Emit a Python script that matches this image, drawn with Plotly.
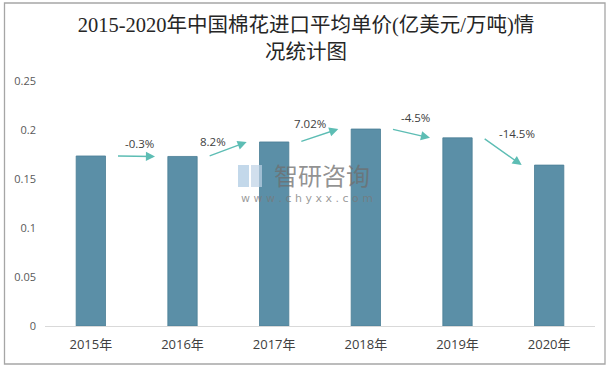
import plotly.graph_objects as go

# ---- data ----
years = ["2015年", "2016年", "2017年", "2018年", "2019年", "2020年"]
prices = [0.1735, 0.1730, 0.1878, 0.2010, 0.1920, 0.1642]
growth_labels = ["-0.3%", "8.2%", "7.02%", "-4.5%", "-14.5%"]
y_ticks = [0, 0.05, 0.1, 0.15, 0.2, 0.25]
y_tick_text = ["0", "0.05", "0.1", "0.15", "0.2", "0.25"]

# ---- styles ----
W, H = 612, 368
ML, MR, MT, MB = 45, 17, 81, 42
bar_color = "#5b8fa7"
arrow_color = "#5dbdb4"
text_color = "#404040"
label_shifts = [(4, -13), (-14, -8), (-9, -12), (5, -16), (15, -18)]
arrow_tail_off, arrow_head_off = 0.28, 0.70

x_idx = list(range(len(years)))

fig = go.Figure()
fig.add_trace(go.Bar(
    x=x_idx, y=prices,
    marker=dict(color=bar_color, line=dict(color="#4a7d95", width=0.8)),
    width=0.32,
    hoverinfo="skip",
))

annotations = []
for i, lab in enumerate(growth_labels):
    tx, ty = i + arrow_tail_off, prices[i]
    hx, hy = i + arrow_head_off, prices[i + 1]
    annotations.append(dict(
        x=hx, y=hy, ax=tx, ay=ty, xref="x", yref="y", axref="x", ayref="y",
        showarrow=True, arrowhead=2, arrowsize=1.3, arrowwidth=1.4,
        arrowcolor=arrow_color, text="",
    ))
    sx, sy = label_shifts[i]
    annotations.append(dict(
        x=(tx + hx) / 2, y=(ty + hy) / 2, xref="x", yref="y",
        text=lab, showarrow=False, xshift=sx, yshift=-sy,
        font=dict(size=11.5, color=text_color, family="Open Sans, Liberation Sans, sans-serif"),
    ))

pw, ph = W - ML - MR, H - MT - MB

# watermark
annotations.append(dict(
    xref="paper", yref="paper", x=(322 - ML) / pw, y=(H - MB - 174) / ph,
    text="智研咨询", showarrow=False,
    font=dict(size=24, color="rgba(110,110,110,0.75)", family="Noto Sans CJK SC"),
))
annotations.append(dict(
    xref="paper", yref="paper", x=(307 - ML) / pw, y=(H - MB - 198) / ph,
    text="w w w . c h y x x . c o m", showarrow=False,
    font=dict(size=11, color="rgba(120,120,120,0.75)", family="DejaVu Sans"),
))

shapes = [
    dict(type="rect", xref="paper", yref="paper",
         x0=(4.5 - ML) / pw, x1=(605 - ML) / pw,
         y0=(H - MB - 364) / ph, y1=(H - MB - 3) / ph,
         line=dict(color="#a6a6a6", width=1.3), fillcolor="rgba(0,0,0,0)", layer="below"),
    # watermark logo blocks
    dict(type="rect", xref="paper", yref="paper",
         x0=(238 - ML) / pw, x1=(249 - ML) / pw,
         y0=(H - MB - 187) / ph, y1=(H - MB - 165) / ph,
         line=dict(width=0), fillcolor="rgba(170,200,225,0.7)", layer="above"),
    dict(type="rect", xref="paper", yref="paper",
         x0=(251 - ML) / pw, x1=(262 - ML) / pw,
         y0=(H - MB - 187) / ph, y1=(H - MB - 165) / ph,
         line=dict(width=0), fillcolor="rgba(190,210,230,0.7)", layer="above"),
]

fig.update_layout(
    width=W, height=H,
    margin=dict(l=ML, r=MR, t=MT, b=MB),
    paper_bgcolor="white", plot_bgcolor="white",
    showlegend=False,
    hovermode=False,
    title=dict(
        text="2015-2020年中国棉花进口平均单价(亿美元/万吨)情<br>况统计图",
        x=0.5, xanchor="center", xref="container",
        y=1 - 32 / H, yanchor="top", yref="container",
        font=dict(size=20.5, color="#262626", family="Liberation Serif, Noto Sans CJK SC, serif"),
    ),
    xaxis=dict(
        range=[-0.5, len(years) - 0.5],
        tickvals=x_idx, ticktext=years,
        showline=True, linecolor="#d9d9d9", linewidth=1,
        showgrid=False, zeroline=False, ticks="",
        tickfont=dict(size=13, color=text_color, family="Open Sans, Noto Sans CJK SC"),
        ticklabelstandoff=6,
    ),
    yaxis=dict(
        range=[0, 0.25], tickvals=y_ticks, ticktext=y_tick_text,
        showline=False, showgrid=False, zeroline=False, ticks="",
        tickfont=dict(size=11, color="#595959", family="Open Sans, Liberation Sans"),
        ticklabelstandoff=8,
    ),
    annotations=annotations,
    shapes=shapes,
)

fig.write_html(
    "out.html",
    config={"displayModeBar": False},
    post_script="document.body.style.margin='0';document.body.style.overflow='hidden';",
)
